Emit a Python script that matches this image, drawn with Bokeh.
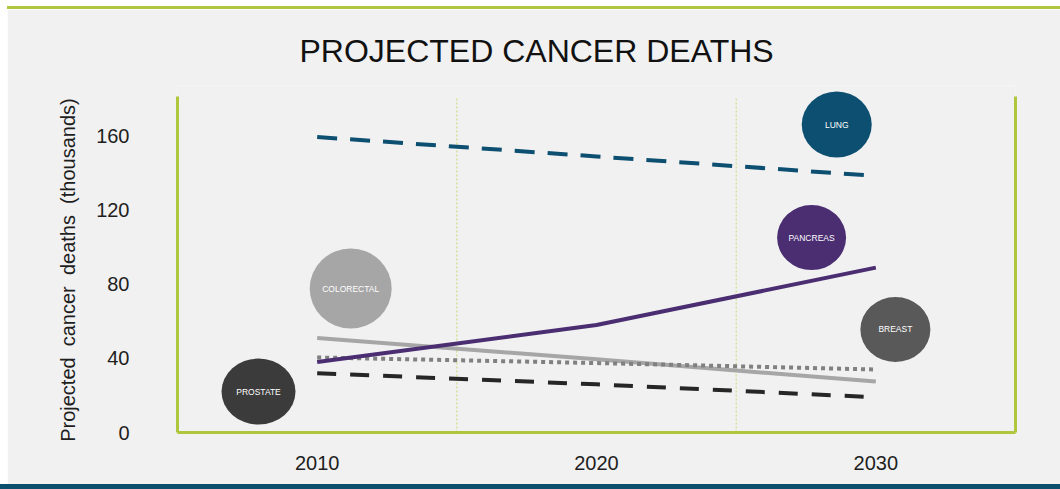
from bokeh.plotting import figure
from bokeh.models import Range1d, FixedTicker, LinearAxis, Spacer
from bokeh.layouts import column, row
from bokeh.embed import file_html
from bokeh.resources import INLINE
from bokeh.core.properties import value

# ---------------- data ----------------
years = [2010, 2020, 2030]
lung = [159.5, 149, 138.5]
pancreas = [38, 58, 89]
colorectal = [51, 39.5, 27.5]
breast = [40.5, 37.5, 34]
prostate = [32, 26, 19]

y_ticks = [0, 40, 80, 120, 160]
x_ticks = [2010, 2020, 2030]
x_dividers = [2015, 2025]

bubble_names = ["LUNG", "PANCREAS", "BREAST", "COLORECTAL", "PROSTATE"]
bubble_x = [2028.6, 2027.7, 2030.7, 2011.2, 2007.9]
bubble_y = [166.2, 105.2, 55.6, 77.7, 22.1]

# ---------------- styles ----------------
BG = "#f1f1f1"
GREEN = "#afc73c"
GRID_GREEN = "#c9da74"
NAVY = "#0b4f6c"
LUNG_C = "#0d4f70"
PANC_C = "#4b2d72"
COLO_C = "#a6a6a6"
BREAST_LINE = "#808080"
BREAST_BUB = "#595959"
PROST_LINE = "#262626"
PROST_BUB = "#3b3b3b"
FONT = "Liberation Sans"
NB = "\u00a0"

bubble_colors = [LUNG_C, PANC_C, BREAST_BUB, COLO_C, PROST_BUB]
bubble_w = [70, 69, 70, 82, 74]
bubble_h = [66, 65, 65, 80, 66]

Y_TOP = 187.3
AXIS_TOP = 181.3

p = figure(width=1053, height=475,
           x_range=Range1d(2005, 2035), y_range=Range1d(0, Y_TOP),
           output_backend="svg", toolbar_location=None,
           min_border_left=170, min_border_right=45,
           min_border_top=76, min_border_bottom=52,
           background_fill_color=BG, border_fill_color=BG,
           outline_line_color=None)

p.xgrid.grid_line_color = None
p.ygrid.grid_line_color = None

# title
p.title.text = "PROJECTED CANCER DEATHS"
p.title.align = "left"
p.title.offset = 122
p.title.standoff = 34
p.title.text_font = FONT
p.title.text_font_size = "32px"
p.title.text_font_style = "normal"
p.title.text_color = "#111111"

# y axis
ya = p.yaxis[0]
ya.ticker = FixedTicker(ticks=y_ticks)
ya.bounds = (0, AXIS_TOP)
ya.axis_line_color = GREEN
ya.axis_line_width = 3
ya.major_tick_line_color = None
ya.minor_tick_line_color = None
ya.major_label_text_font = FONT
ya.major_label_text_font_size = "20px"
ya.major_label_text_color = "#1e1e1e"
ya.major_label_standoff = 42
ya.axis_label = ("Projected" + NB * 2 + "cancer" + NB * 2 + "deaths" + NB * 2
                 + "(thousands)" + NB * 4)
ya.axis_label_text_font = FONT
ya.axis_label_text_font_size = "20px"
ya.axis_label_text_font_style = "normal"
ya.axis_label_text_color = "#1e1e1e"
ya.axis_label_standoff = 14

# x axis
xa = p.xaxis[0]
xa.ticker = FixedTicker(ticks=x_ticks)
xa.axis_line_color = GREEN
xa.axis_line_width = 3
xa.major_tick_line_color = None
xa.minor_tick_line_color = None
xa.major_label_text_font = FONT
xa.major_label_text_font_size = "20px"
xa.major_label_text_color = "#1e1e1e"
xa.major_label_standoff = 17

# right frame line
ra = LinearAxis(ticker=FixedTicker(ticks=[]), bounds=(0, AXIS_TOP))
ra.axis_line_color = GREEN
ra.axis_line_width = 3
ra.major_tick_line_color = None
ra.minor_tick_line_color = None
ra.major_label_text_font_size = "0px"
p.add_layout(ra, "right")

# dotted category dividers
p.segment(x0=x_dividers, y0=[0] * len(x_dividers), x1=x_dividers,
          y1=[AXIS_TOP] * len(x_dividers),
          line_color=GRID_GREEN, line_width=1, line_dash="2 2")

# series lines
p.line(years, colorectal, line_color=COLO_C, line_width=4)
p.line(years, breast, line_color=BREAST_LINE, line_width=4, line_dash="4 4")
p.line(years, prostate, line_color=PROST_LINE, line_width=4, line_dash="19 14")
p.line(years, pancreas, line_color=PANC_C, line_width=4)
p.line(years, lung, line_color=LUNG_C, line_width=4, line_dash="20 13")

# bubbles
p.ellipse(x=bubble_x, y=bubble_y, width=bubble_w, height=bubble_h,
          width_units="screen", height_units="screen",
          fill_color=bubble_colors, line_color=None)
p.text(x=bubble_x, y=bubble_y, text=bubble_names,
       text_align="center", text_baseline="middle",
       text_color="white", text_font=value(FONT), text_font_size="8.5px")

top_strip = column(
    Spacer(width=1060, height=6),
    row(Spacer(width=7, height=3),
        Spacer(width=1053, height=3, styles={"background-color": GREEN})),
)
middle = row(Spacer(width=7, height=475), p)
bottom = Spacer(width=1060, height=5, styles={"background-color": NAVY})

layout = column(top_strip, middle, bottom)

open("out.html", "w").write(file_html(layout, INLINE))
